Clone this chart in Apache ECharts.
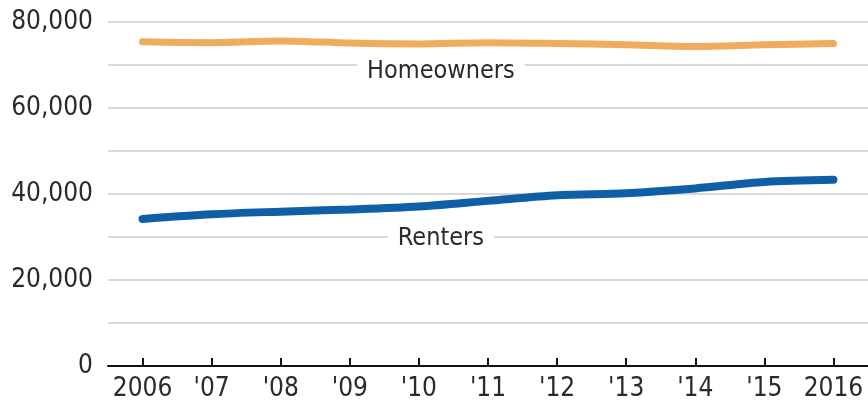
<!DOCTYPE html>
<html><head><meta charset="utf-8">
<script src="https://cdn.jsdelivr.net/npm/echarts@6/dist/echarts.min.js"></script>
<style>html,body{margin:0;padding:0;background:#fff}#c{width:868px;height:402px}</style>
</head><body><div id="c"></div>
<script>
const years = ["2006","'07","'08","'09","'10","'11","'12","'13","'14","'15","2016"];
const homeowners = [75400, 75200, 75600, 75100, 74900, 75200, 75000, 74700, 74300, 74700, 75000];
const renters = [34200, 35300, 35900, 36400, 37100, 38400, 39700, 40200, 41300, 42800, 43300];
const yTicks = [0, 20000, 40000, 60000, 80000];
const seriesNames = ["Homeowners", "Renters"];

const FONT = "'DejaVu Sans Condensed','Liberation Sans Narrow',sans-serif";
const chart = echarts.init(document.getElementById('c'), null, {renderer:'canvas'});
const labelStyle = {
  show: true, formatter: '{b}', color: '#2a2a2a', fontFamily: FONT, fontSize: 25,
  backgroundColor: '#fff', padding: [0, 10, 0, 10], position: 'inside'
};
chart.setOption({
  animation: false,
  grid: {left: 108, right: -6, top: 22, bottom: 36},
  xAxis: {
    type: 'category', data: years, boundaryGap: true,
    axisLine: {show: true, lineStyle: {color: '#111', width: 2}},
    axisTick: {show: true, inside: true, alignWithLabel: true, length: 8, lineStyle: {color: '#111', width: 2}},
    axisLabel: {color: '#2a2a2a', fontFamily: FONT, fontSize: 26, margin: 10, interval: 0}
  },
  yAxis: {
    type: 'value', min: 0, max: 80000, interval: 10000,
    axisLine: {show: false}, axisTick: {show: false},
    splitLine: {lineStyle: {color: '#cccccc', width: 1.5}},
    axisLabel: {
      color: '#2a2a2a', fontFamily: FONT, fontSize: 26, margin: 15,
      formatter: v => yTicks.includes(v) ? v.toLocaleString('en-US') : ''
    }
  },
  series: [
    {
      name: seriesNames[0], type: 'line', data: homeowners, smooth: 0.3, symbol: 'none',
      lineStyle: {color: '#F0AC5C', width: 7, cap: 'round'},
      markPoint: {
        symbol: 'rect', symbolSize: 1, itemStyle: {color: 'rgba(0,0,0,0)'},
        label: labelStyle,
        data: [{name: seriesNames[0], coord: ["'10", 68600], label: {offset: [22, 0]}}]
      }
    },
    {
      name: seriesNames[1], type: 'line', data: renters, smooth: 0.3, symbol: 'none',
      lineStyle: {color: '#0E5FA6', width: 8, cap: 'round'},
      markPoint: {
        symbol: 'rect', symbolSize: 1, itemStyle: {color: 'rgba(0,0,0,0)'},
        label: labelStyle,
        data: [{name: seriesNames[1], coord: ["'10", 29600], label: {offset: [22, 0]}}]
      }
    }
  ]
});
</script></body></html>
